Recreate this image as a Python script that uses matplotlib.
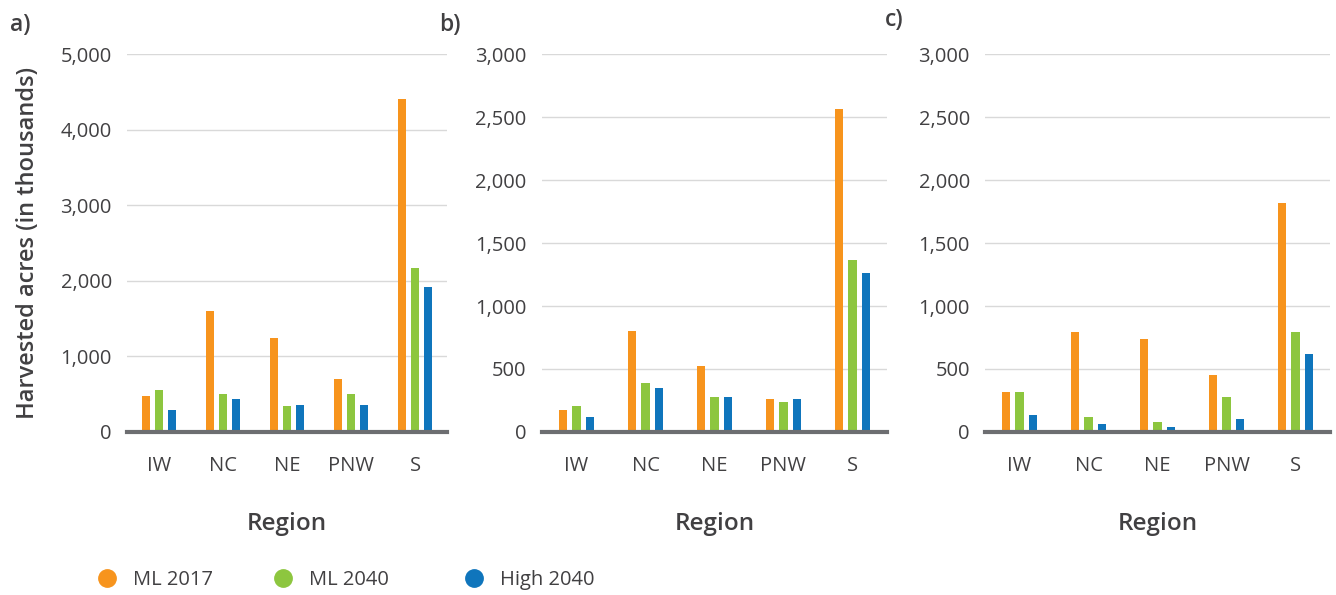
import numpy as np
import matplotlib.pyplot as plt
from matplotlib.lines import Line2D
from matplotlib.ticker import FuncFormatter

REGIONS = ["IW", "NC", "NE", "PNW", "S"]
SERIES = ["ML 2017", "ML 2040", "High 2040"]
COLORS = ["#f7941d", "#8dc63f", "#0f75bc"]

# panel a
a_ml2017 = [480, 1600, 1245, 695, 4405]
a_ml2040 = [550, 505, 340, 505, 2175]
a_high2040 = [290, 430, 360, 360, 1920]
# panel b
b_ml2017 = [175, 805, 520, 265, 2565]
b_ml2040 = [205, 390, 280, 235, 1365]
b_high2040 = [120, 350, 280, 265, 1265]
# panel c
c_ml2017 = [320, 795, 735, 450, 1820]
c_ml2040 = [320, 120, 80, 280, 795]
c_high2040 = [135, 60, 40, 100, 620]

TEXT = "#414042"
plt.rcParams['font.family'] = ['Open Sans', 'DejaVu Sans']

fig = plt.figure(figsize=(13.36, 5.95), dpi=100)

panels = [
    ("a)", [a_ml2017, a_ml2040, a_high2040], 5000, 1000, [0.0951, 0.274, 0.2395, 0.635], 0.13, 0.20),
    ("b)", [b_ml2017, b_ml2040, b_high2040], 3000, 500, [0.4057, 0.274, 0.2582, 0.635], 0.12, 0.195),
    ("c)", [c_ml2017, c_ml2040, c_high2040], 3000, 500, [0.7373, 0.274, 0.2582, 0.635], 0.12, 0.195),
]

x = np.arange(len(REGIONS))
for i, (tag, data, ymax, step, rect, bw, off) in enumerate(panels):
    ax = fig.add_axes(rect)
    for k, vals in enumerate(data):
        ax.bar(x + (k - 1) * off, vals, width=bw, color=COLORS[k], zorder=2)
    ax.set_xlim(-0.5, len(REGIONS) - 0.5)
    ax.set_ylim(0, ymax)
    ax.set_yticks(np.arange(0, ymax + 1, step))
    ax.yaxis.set_major_formatter(FuncFormatter(lambda v, p: f"{int(v):,}"))
    ax.set_xticks(x)
    ax.set_xticklabels(REGIONS)
    ax.grid(axis="y", color="#d9d9d9", lw=1, zorder=0)
    ax.set_axisbelow(True)
    for s in ax.spines.values():
        s.set_visible(False)
    ax.axhline(0, color="#6d6e71", lw=3, zorder=3, clip_on=False)
    ax.tick_params(axis="both", length=0, labelsize=14.5, colors=TEXT)
    ax.tick_params(axis="y", pad=11)
    ax.tick_params(axis="x", pad=17)
    ax.set_xlabel("Region", fontsize=17.5, color=TEXT, labelpad=26, fontweight="semibold")
    if i == 0:
        ax.set_ylabel("Harvested acres (in thousands)", fontsize=17, color=TEXT,
                      labelpad=15, fontweight="semibold")

fig.text(0.0075, 0.958, "a)", fontsize=16.5, color=TEXT, fontweight="semibold", va="center")
fig.text(0.329, 0.958, "b)", fontsize=16.5, color=TEXT, fontweight="semibold", va="center")
fig.text(0.662, 0.966, "c)", fontsize=16.5, color=TEXT, fontweight="semibold", va="center")

# one legend entry per series, placed like the original
leg_x = [0.0726, 0.2043, 0.3473]
for lx, name, c in zip(leg_x, SERIES, COLORS):
    h = Line2D([], [], ls="", marker="o", markersize=12.5, color=c)
    leg = fig.legend([h], [name], loc="center left", bbox_to_anchor=(lx, 0.025),
                     frameon=False, fontsize=14.5, handletextpad=0.8, handlelength=1.0,
                     borderpad=0, borderaxespad=0)
    for t in leg.get_texts():
        t.set_color(TEXT)

fig.savefig("out.png", dpi=100)
